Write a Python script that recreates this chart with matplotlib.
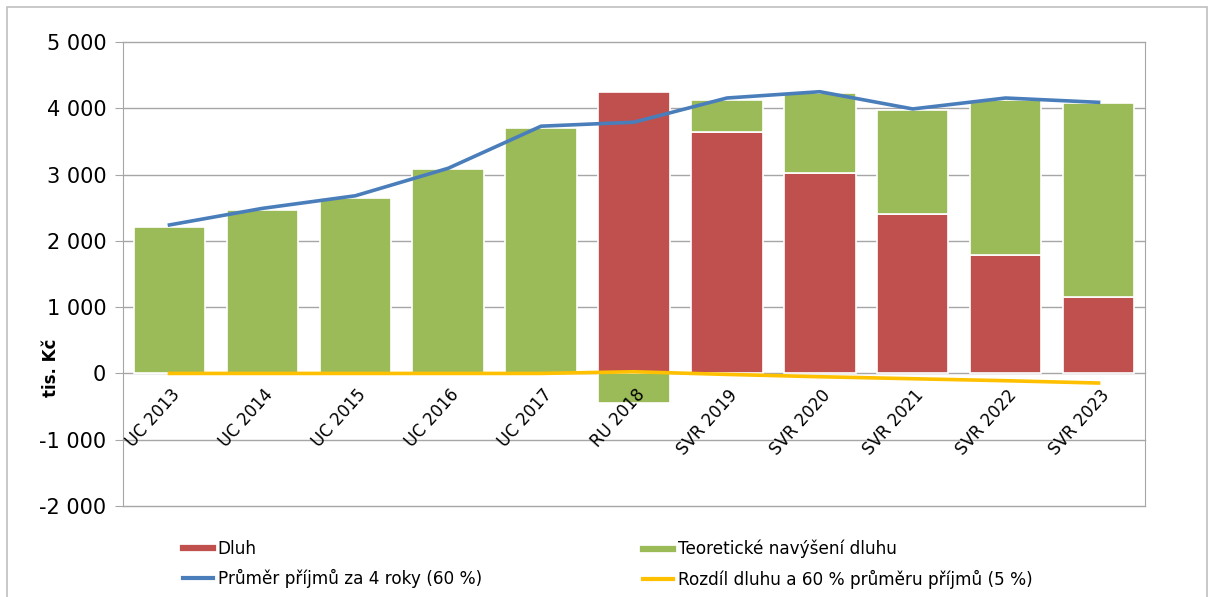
import numpy as np
import matplotlib.pyplot as plt
from matplotlib.lines import Line2D
from matplotlib.patches import Rectangle
from matplotlib.ticker import FuncFormatter, MultipleLocator
from matplotlib.transforms import ScaledTranslation

years = ["UC 2013", "UC 2014", "UC 2015", "UC 2016", "UC 2017", "RU 2018",
         "SVR 2019", "SVR 2020", "SVR 2021", "SVR 2022", "SVR 2023"]
dluh = [0, 0, 0, 0, 0, 4240, 3640, 3030, 2400, 1780, 1160]
navyseni = [2210, 2460, 2650, 3080, 3700, -450, 490, 1200, 1575, 2350, 2915]
prumer = [2240, 2490, 2680, 3095, 3730, 3790, 4155, 4250, 3990, 4155, 4090]
rozdil = [0, 0, 0, 0, 0, 25, -15, -50, -80, -110, -145]

c_red = "#C0504D"
c_green = "#9BBB59"
c_blue = "#4A7EBB"
c_yellow = "#FFC000"
c_grid = "#A6A6A6"

fig = plt.figure(figsize=(12.12, 5.97), dpi=100)
ax = fig.add_axes([123 / 1212, 1 - 506 / 597, (1145 - 123) / 1212, (506 - 42) / 597])

x = np.arange(len(years))
w = 0.77

# horizontal gridlines drawn by hand so the axis labels can sit above the bars
for gy in range(-2000, 5001, 1000):
    ax.axhline(gy, color=c_grid, lw=1.0, zorder=0.5, clip_on=False)

# green sits on top of the debt when positive, below zero when negative
bottoms = [d if n >= 0 else 0 for d, n in zip(dluh, navyseni)]
ax.bar(x, dluh, w, color=c_red, edgecolor="white", linewidth=1.2, zorder=2)
ax.bar(x, navyseni, w, bottom=bottoms, color=c_green, edgecolor="white",
       linewidth=1.2, zorder=2)
ax.plot(x, prumer, color=c_blue, lw=2.6, zorder=3)
ax.plot(x, rozdil, color=c_yellow, lw=2.6, zorder=3)

ax.set_xlim(-0.5, len(years) - 0.5)
ax.set_ylim(-2000, 5000)
ax.yaxis.set_major_locator(MultipleLocator(1000))
ax.yaxis.set_major_formatter(FuncFormatter(lambda v, p: f"{int(v):,}".replace(",", " ")))

for s in ["left", "right"]:
    ax.spines[s].set_color(c_grid)
ax.spines["top"].set_visible(False)
ax.spines["bottom"].set_visible(False)
ax.tick_params(axis="y", length=6, color=c_grid, labelsize=15, pad=6)
ax.tick_params(axis="x", length=0, labelsize=12, pad=0)
ax.xaxis.set_zorder(4)

ax.set_xticks(x)
ax.set_xticklabels(years, rotation=48, rotation_mode="anchor")
# category labels hang from the zero line (shift in inches at 100 dpi)
shift = ScaledTranslation(8 / 100, (506 - 392) / 100, fig.dpi_scale_trans)
for lbl in ax.get_xticklabels():
    lbl.set_horizontalalignment("right")
    lbl.set_verticalalignment("center")
    lbl.set_transform(lbl.get_transform() + shift)

fig.text(51 / 1212, 1 - 368 / 597, "tis. Kč", rotation=90, ha="center", va="center",
         fontsize=12, fontweight="bold")

leg_kw = dict(frameon=False, fontsize=12.2, handlelength=1.75, handletextpad=0.3,
              labelspacing=0.65, borderaxespad=0, borderpad=0)
fig.legend([Line2D([], [], color=c_red, lw=4.5), Line2D([], [], color=c_blue, lw=3)],
           ["Dluh", "Průměr příjmů za 4 roky (60 %)"],
           loc="upper left", bbox_to_anchor=(183 / 1212, 1 - 540 / 597), **leg_kw)
fig.legend([Line2D([], [], color=c_green, lw=4.5), Line2D([], [], color=c_yellow, lw=3)],
           ["Teoretické navýšení dluhu", "Rozdíl dluhu a 60 % průměru příjmů (5 %)"],
           loc="upper left", bbox_to_anchor=(643 / 1212, 1 - 540 / 597), **leg_kw)

fig.patches.append(Rectangle((7 / 1212, -0.05), 1200 / 1212, 1.05 - 7 / 597,
                             transform=fig.transFigure, fill=False,
                             edgecolor="#BFBFBF", lw=1.2))

fig.savefig("out.png", dpi=100)
